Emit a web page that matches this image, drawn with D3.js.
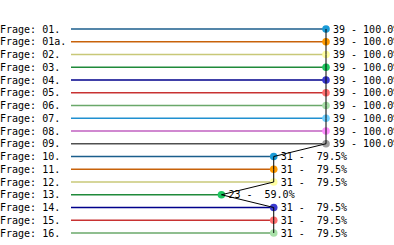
<!DOCTYPE html>
<html><head><meta charset="utf-8">
<script src="https://cdn.jsdelivr.net/npm/d3@7"></script>
<style>
html,body{margin:0;padding:0;background:#fff;}
svg{display:block;}
text{font-family:"DejaVu Sans Mono",monospace;font-size:10px;fill:#000;white-space:pre;}
</style></head>
<body>
<svg id="c" width="394" height="245"></svg>
<script>
const categories = ["Frage: 01.","Frage: 01a.","Frage: 02.","Frage: 03.","Frage: 04.","Frage: 05.","Frage: 06.","Frage: 07.","Frage: 08.","Frage: 09.","Frage: 10.","Frage: 11.","Frage: 12.","Frage: 13.","Frage: 14.","Frage: 15.","Frage: 16."];
const counts = [39,39,39,39,39,39,39,39,39,39,31,31,31,23,31,31,31];
const percents = [100.0,100.0,100.0,100.0,100.0,100.0,100.0,100.0,100.0,100.0,79.5,79.5,79.5,59.0,79.5,79.5,79.5];
const lineColors = ["#1b5e8c","#c8620a","#c8c878","#1f8a3a","#00008b","#c83232","#6aa86a","#2090d0","#c060c0","#505050"];
const pointColors = ["#1a9bd7","#ff9a00","#ffffa0","#1ec860","#3a3ad0","#ff7070","#a8e0a8","#70d0ff","#ff90ff","#a0a0a0"];

const svg = d3.select("#c");
const x = d3.scaleLinear().domain([0,100]).range([71,326]);
const y = d3.scalePoint().domain(categories).range([29,233]);

const data = categories.map((c,i)=>({cat:c,count:counts[i],pct:percents[i],i}));

svg.selectAll("text.cat").data(data).join("text")
  .attr("class","cat").attr("x",0).attr("y",d=>y(d.cat)).attr("dy","0.35em")
  .text(d=>d.cat);

svg.selectAll("line.bar").data(data).join("line")
  .attr("class","bar")
  .attr("x1",x(0)).attr("x2",d=>x(d.pct))
  .attr("y1",d=>y(d.cat)).attr("y2",d=>y(d.cat))
  .attr("stroke",d=>lineColors[d.i%10]).attr("stroke-width",1.3);

svg.selectAll("circle.pt").data(data).join("circle")
  .attr("class","pt")
  .attr("cx",d=>x(d.pct)).attr("cy",d=>y(d.cat)).attr("r",3.8)
  .attr("fill",d=>pointColors[d.i%10]);

svg.append("path").datum(data)
  .attr("d",d3.line().x(d=>x(d.pct)).y(d=>y(d.cat)))
  .attr("fill","none").attr("stroke","#000").attr("stroke-width",1);

const fmt = d => String(d.count)+" - "+d.pct.toFixed(1).padStart(5," ")+"%";
svg.selectAll("text.val").data(data).join("text")
  .attr("class","val").attr("x",d=>x(d.pct)+7).attr("y",d=>y(d.cat)).attr("dy","0.35em")
  .text(fmt);
</script>
</body></html>
